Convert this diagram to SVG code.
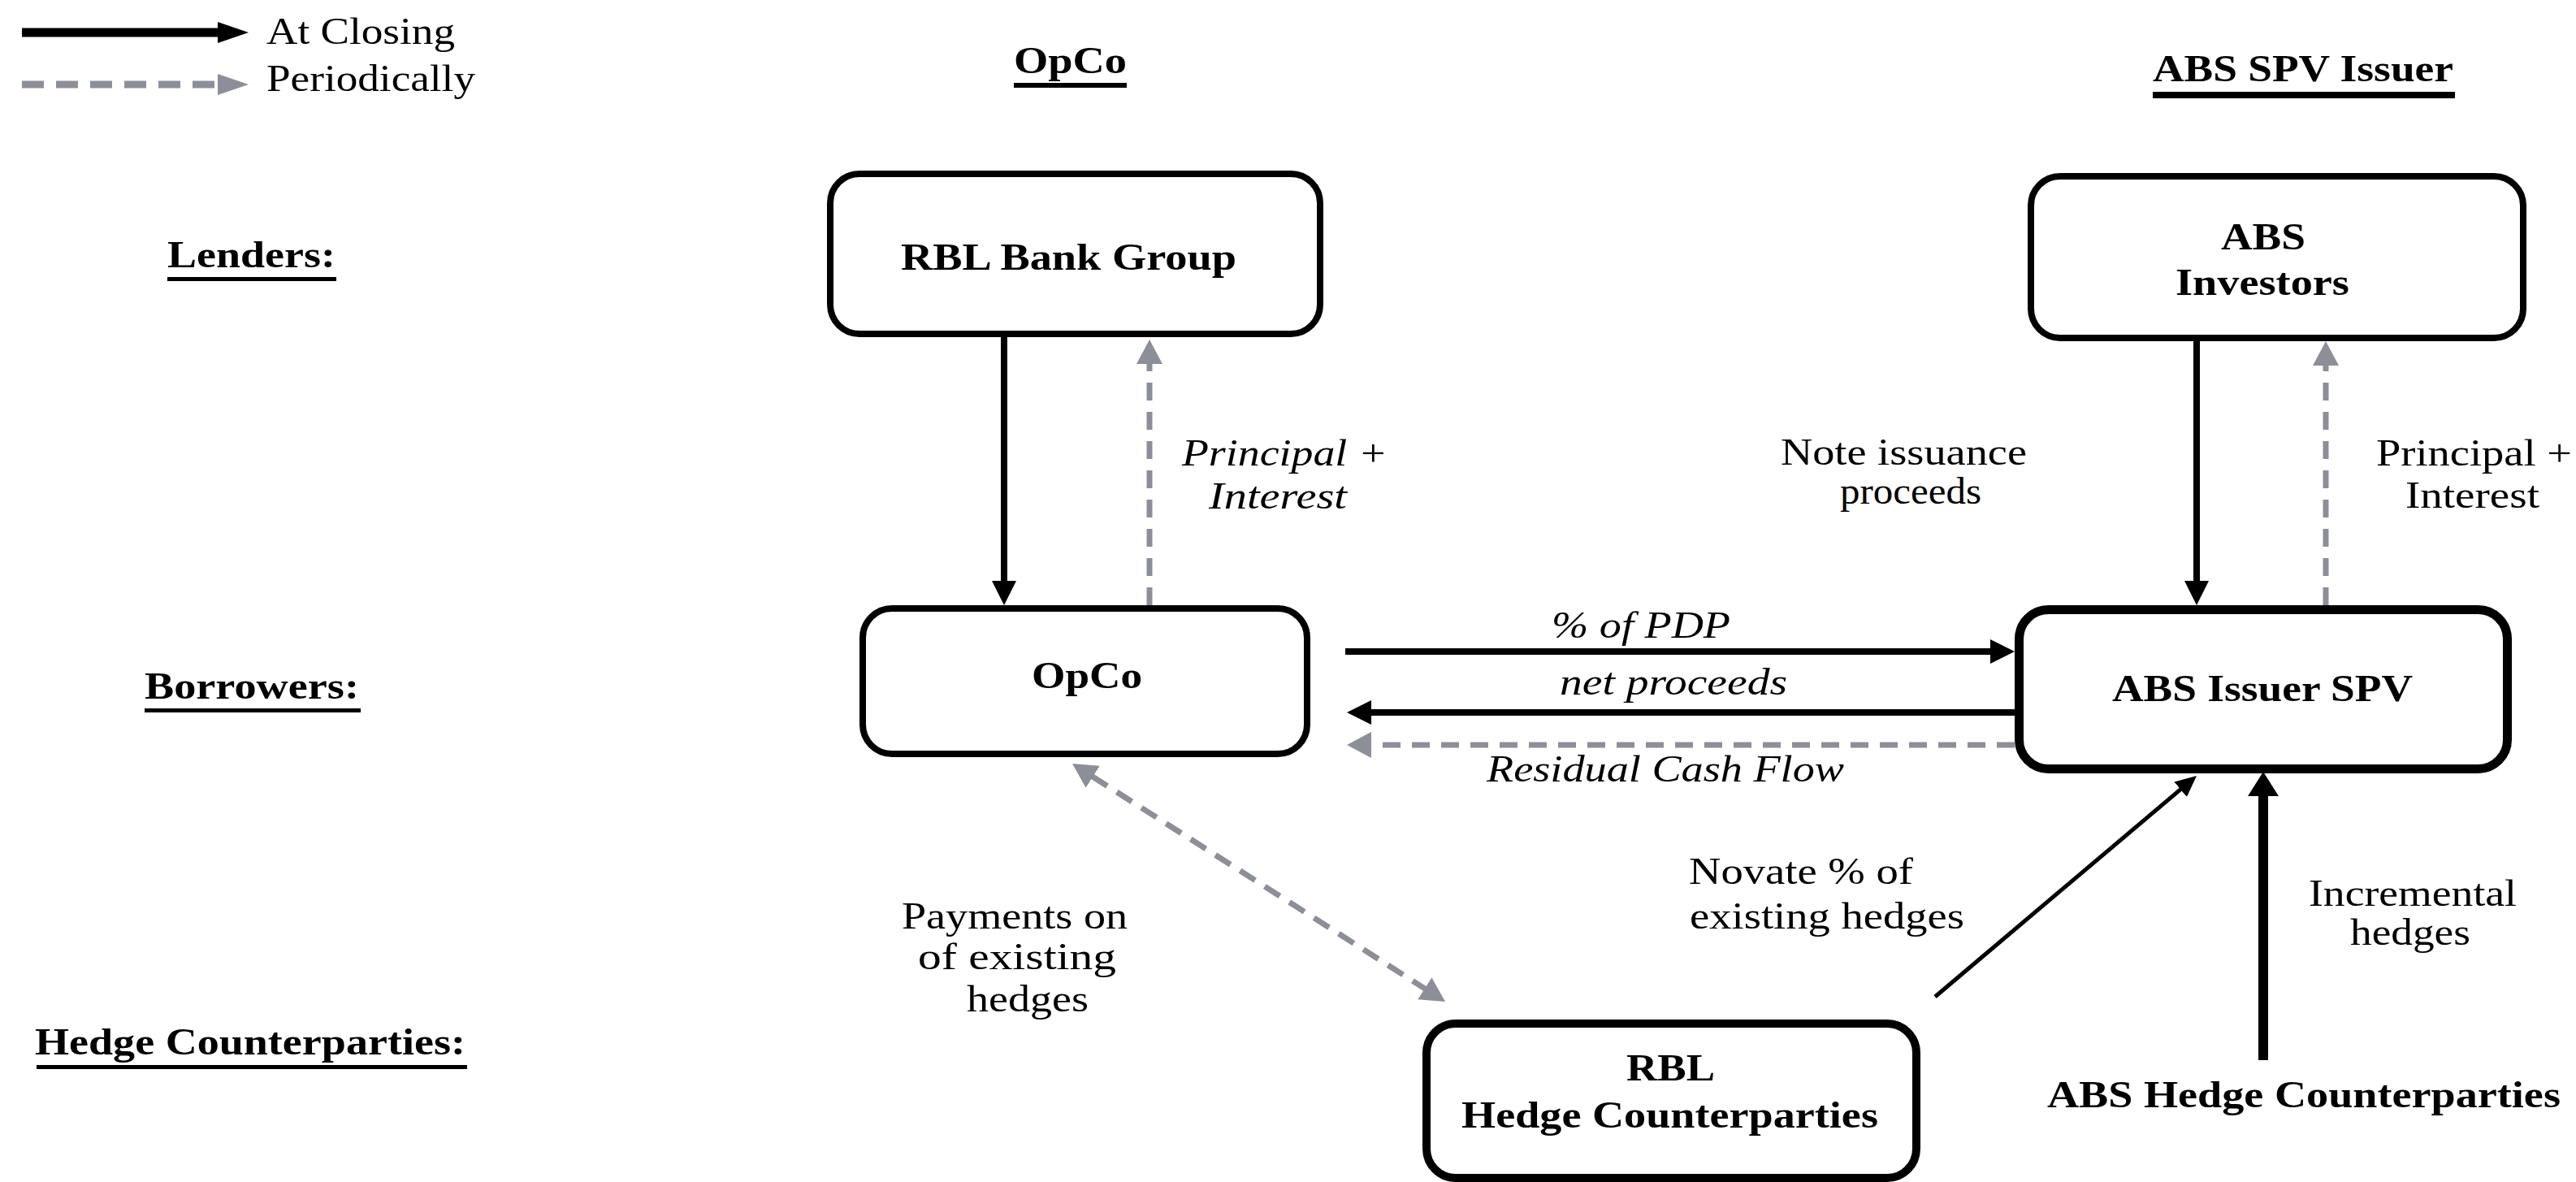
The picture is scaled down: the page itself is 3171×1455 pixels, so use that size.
<svg xmlns="http://www.w3.org/2000/svg" width="3171" height="1455" viewBox="0 0 3171 1455">
<defs>
<style>
.t{font-family:"Liberation Serif","Times New Roman",serif;fill:#000;font-size:46px}
.b{font-weight:bold}
.i{font-style:italic}
.box{fill:#fff;stroke:#000}
.solid{stroke:#000;fill:none}
.dash{stroke:#8c8f98;fill:none;stroke-width:7;stroke-dasharray:22 14}
.ul{fill:#000}
</style>
<marker id="ah" markerUnits="userSpaceOnUse" markerWidth="32" markerHeight="32" refX="1" refY="16" orient="auto"><path d="M0,1 L30,16 L0,31 z" fill="#000"/></marker>
<marker id="ahl" markerUnits="userSpaceOnUse" markerWidth="32" markerHeight="40" refX="1" refY="19" orient="auto"><path d="M0,0 L30,19 L0,38 z" fill="#000"/></marker>
<marker id="ahs" markerUnits="userSpaceOnUse" markerWidth="28" markerHeight="28" refX="1" refY="13" orient="auto"><path d="M0,1 L26,13 L0,25 z" fill="#000"/></marker>
<marker id="ahg" markerUnits="userSpaceOnUse" markerWidth="32" markerHeight="34" refX="1" refY="17" orient="auto-start-reverse"><path d="M0,1 L30,17 L0,33 z" fill="#8c8f98"/></marker>
</defs>
<rect width="3171" height="1455" fill="#fff"/>

<g id="legend">
<line x1="27" y1="40" x2="270" y2="40" stroke="#000" stroke-width="11"/>
<polygon points="268,27 306,40 268,53" fill="#000"/>
<text class="t" x="328" y="54" textLength="232" lengthAdjust="spacingAndGlyphs">At Closing</text>
<line x1="27" y1="104" x2="264" y2="104" stroke="#8c8f98" stroke-width="9" stroke-dasharray="27 15"/>
<polygon points="268,91 306,104 268,117" fill="#8c8f98"/>
<text class="t" x="328" y="112" textLength="257" lengthAdjust="spacingAndGlyphs">Periodically</text>
</g>

<g id="headers">
<text class="t b" x="1248" y="90" font-size="44" textLength="139" lengthAdjust="spacingAndGlyphs">OpCo</text>
<rect class="ul" x="1248" y="102" width="139" height="6"/>
<text class="t b" x="2650" y="100" font-size="44" textLength="370" lengthAdjust="spacingAndGlyphs">ABS SPV Issuer</text>
<rect class="ul" x="2650" y="113" width="372" height="8"/>
<text class="t b" x="206" y="329" font-size="48" textLength="207" lengthAdjust="spacingAndGlyphs">Lenders:</text>
<rect class="ul" x="206" y="341" width="208" height="5"/>
<text class="t b" x="178" y="860" font-size="48" textLength="264" lengthAdjust="spacingAndGlyphs">Borrowers:</text>
<rect class="ul" x="178" y="872" width="266" height="5"/>
<text class="t b" x="43" y="1298" font-size="48" textLength="530" lengthAdjust="spacingAndGlyphs">Hedge Counterparties:</text>
<rect class="ul" x="45" y="1311" width="530" height="5"/>
</g>

<g id="connectors">
<line class="solid" x1="1236" y1="415" x2="1236" y2="716" stroke-width="8" marker-end="url(#ah)"/>
<line class="dash" x1="1415" y1="745" x2="1415" y2="447" marker-end="url(#ahg)"/>
<line class="solid" x1="2704" y1="420" x2="2704" y2="716" stroke-width="8" marker-end="url(#ah)"/>
<line class="dash" x1="2863" y1="745" x2="2863" y2="449" marker-end="url(#ahg)"/>
<line class="solid" x1="1656" y1="802" x2="2451" y2="802" stroke-width="8" marker-end="url(#ah)"/>
<line class="solid" x1="2480" y1="877" x2="1687" y2="877" stroke-width="8" marker-end="url(#ah)"/>
<line class="dash" x1="2480" y1="917" x2="1687" y2="917" marker-end="url(#ahg)"/>
<line class="dash" x1="1344.4" y1="955.6" x2="1754.6" y2="1217.4" marker-start="url(#ahg)" marker-end="url(#ahg)"/>
<line class="solid" x1="2382" y1="1227" x2="2684.9" y2="971.1" stroke-width="5" marker-end="url(#ahs)"/>
<line class="solid" x1="2786" y1="1305" x2="2786" y2="979" stroke-width="12" marker-end="url(#ahl)"/>
<text class="t i" x="1455" y="573" textLength="253" lengthAdjust="spacingAndGlyphs">Principal +</text>
<text class="t i" x="1488" y="626" textLength="170" lengthAdjust="spacingAndGlyphs">Interest</text>
<text class="t" x="2192" y="572" textLength="303" lengthAdjust="spacingAndGlyphs">Note issuance</text>
<text class="t" x="2265" y="620" textLength="174" lengthAdjust="spacingAndGlyphs">proceeds</text>
<text class="t" x="2925" y="573" textLength="241" lengthAdjust="spacingAndGlyphs">Principal +</text>
<text class="t" x="2961" y="625" textLength="165" lengthAdjust="spacingAndGlyphs">Interest</text>
<text class="t i" x="1910" y="785" textLength="220" lengthAdjust="spacingAndGlyphs">% of PDP</text>
<text class="t i" x="1920" y="855" textLength="280" lengthAdjust="spacingAndGlyphs">net proceeds</text>
<text class="t i" x="1830" y="962" textLength="440" lengthAdjust="spacingAndGlyphs">Residual Cash Flow</text>
<text class="t" x="2079" y="1088" textLength="276" lengthAdjust="spacingAndGlyphs">Novate % of</text>
<text class="t" x="2080" y="1143" textLength="338" lengthAdjust="spacingAndGlyphs">existing hedges</text>
<text class="t" x="2842" y="1115" textLength="256" lengthAdjust="spacingAndGlyphs">Incremental</text>
<text class="t" x="2893" y="1163" textLength="148" lengthAdjust="spacingAndGlyphs">hedges</text>
<text class="t" x="1110" y="1143" textLength="278" lengthAdjust="spacingAndGlyphs">Payments on</text>
<text class="t" x="1130" y="1193" textLength="244" lengthAdjust="spacingAndGlyphs">of existing</text>
<text class="t" x="1190" y="1245" textLength="150" lengthAdjust="spacingAndGlyphs">hedges</text>
</g>

<g id="rbl-bank-group">
<rect class="box" x="1022" y="214" width="603" height="197" rx="36" stroke-width="8"/>
<text class="t b" x="1109" y="332" font-size="47" textLength="413" lengthAdjust="spacingAndGlyphs">RBL Bank Group</text>
</g>

<g id="opco">
<rect class="box" x="1062" y="749" width="547" height="179" rx="36" stroke-width="8"/>
<text class="t b" x="1270" y="847" font-size="47" textLength="136" lengthAdjust="spacingAndGlyphs">OpCo</text>
</g>

<g id="abs-investors">
<rect class="box" x="2500" y="217" width="606" height="199" rx="36" stroke-width="8"/>
<text class="t b" x="2734" y="307" font-size="47" textLength="104" lengthAdjust="spacingAndGlyphs">ABS</text>
<text class="t b" x="2678" y="363" font-size="47" textLength="214" lengthAdjust="spacingAndGlyphs">Investors</text>
</g>

<g id="abs-issuer-spv">
<rect class="box" x="2485.5" y="750.5" width="601" height="196" rx="36" stroke-width="11"/>
<text class="t b" x="2600" y="863" font-size="47" textLength="370" lengthAdjust="spacingAndGlyphs">ABS Issuer SPV</text>
</g>

<g id="rbl-hedge-counterparties">
<rect class="box" x="1756" y="1260" width="603" height="190" rx="36" stroke-width="10"/>
<text class="t b" x="2002" y="1330" font-size="47" textLength="109" lengthAdjust="spacingAndGlyphs">RBL</text>
<text class="t b" x="1799" y="1388" font-size="47" textLength="513" lengthAdjust="spacingAndGlyphs">Hedge Counterparties</text>
</g>

<g id="abs-hedge-counterparties">
<text class="t b" x="2520" y="1363" font-size="47" textLength="632" lengthAdjust="spacingAndGlyphs">ABS Hedge Counterparties</text>
</g>
</svg>
